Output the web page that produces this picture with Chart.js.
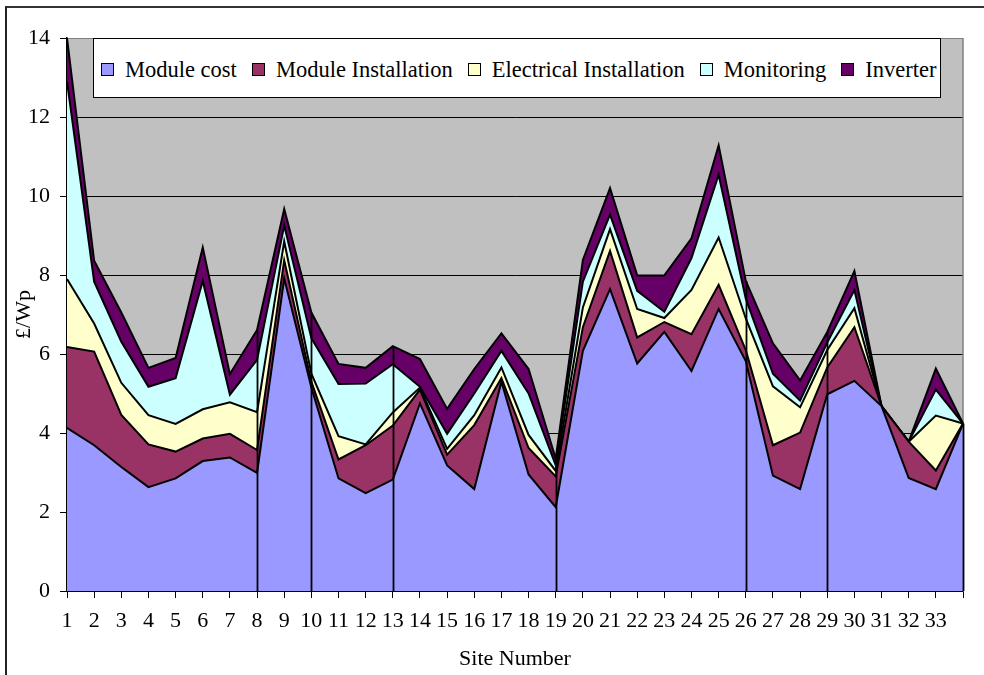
<!DOCTYPE html>
<html>
<head>
<meta charset="utf-8">
<script src="https://cdn.jsdelivr.net/npm/chart.js@4.4.1/dist/chart.umd.min.js"></script>
<style>
  html, body { margin: 0; padding: 0; background: #fff; }
  #wrap { position: relative; width: 984px; height: 675px; overflow: hidden; }
  #frame { position: absolute; left: 5px; top: 6px; width: 2000px; height: 2000px;
           border-left: 2px solid #222; border-top: 2px solid #333; }
  #c { position: absolute; left: 0; top: 0; }
  #legend { position: absolute; left: 93px; top: 38px; width: 848px; height: 60px;
            box-sizing: border-box; background: #fff; border: 1px solid #000;
            display: flex; align-items: center; padding-left: 7px; padding-top: 3px;
            font-family: "Liberation Serif", "Times New Roman", serif; font-size: 22.5px; color: #000;
            white-space: nowrap; }
  #legend .item { display: flex; align-items: center; margin-right: 15px; }
  #legend .sw { width: 13px; height: 13px; box-sizing: border-box; border: 1.5px solid #000; margin-right: 11px; }
</style>
</head>
<body>
<div id="wrap">
  <div id="frame"></div>
  <canvas id="c" width="984" height="675"></canvas>
  <div id="legend"></div>
</div>
<script>
// ---- data (£/Wp) ----
const sites = ['1','2','3','4','5','6','7','8','9','10','11','12','13','14','15','16','17',
               '18','19','20','21','22','23','24','25','26','27','28','29','30','31','32','33',''];
const moduleCost = [4.13,3.69,3.14,2.63,2.85,3.29,3.38,2.99,7.91,5.15,2.85,2.48,2.82,4.75,3.18,2.58,5.30,
                    2.95,2.12,6.08,7.64,5.76,6.56,5.57,7.14,5.82,2.92,2.58,4.98,5.32,4.68,2.86,2.58,4.24];
const moduleInstallation = [2.05,2.37,1.32,1.08,0.68,0.57,0.60,0.58,0.46,0.15,0.48,1.21,1.37,0.35,0.27,1.62,0.09,
                    0.67,0.78,0.60,0.97,0.66,0.25,0.93,0.61,0.28,0.77,1.43,0.68,1.36,0,0.92,0.47,0];
const electricalInstallation = [1.72,0.71,0.81,0.74,0.70,0.74,0.80,0.96,0.48,0.20,0.59,0.02,0.33,0.05,0.15,0.25,0.27,
                    0.33,0.14,0.50,0.55,0.72,0.10,1.12,1.20,0.80,1.49,0.64,0.44,0.48,0,0,1.39,0];
const monitoring = [5.00,1.06,1.04,0.72,1.16,3.25,0.19,1.32,0.40,0.90,1.32,1.54,1.22,0.02,0.38,0.55,0.42,
                    1.05,0.14,0.65,0.37,0.46,0.16,0.81,1.59,0.50,0.32,0.17,0.19,0.46,0,0,0.66,0];
const inverter = [1.10,0.53,0.74,0.48,0.51,0.85,0.52,0.76,0.42,0.65,0.51,0.40,0.46,0.70,0.63,0.62,0.44,
                    0.62,0.17,0.55,0.67,0.39,0.92,0.50,0.74,0.45,0.77,0.51,0.27,0.48,0,0,0.53,0];
const seriesNames = ['Module cost','Module Installation','Electrical Installation','Monitoring','Inverter'];
const seriesColors = ['#9999FF','#993366','#FFFFCC','#CCFFFF','#660066'];
const yTicks = [0,2,4,6,8,10,12,14];
const dividerSites = ['8','10','13','19','26','29'];
const xTitle = 'Site Number';
const yTitle = '£/Wp';

const allSeries = [moduleCost, moduleInstallation, electricalInstallation, monitoring, inverter];
const FONT = "'Liberation Serif', 'Times New Roman', serif";

const datasets = allSeries.map((vals, i) => ({
  label: seriesNames[i],
  data: vals,
  backgroundColor: seriesColors[i],
  borderColor: '#000',
  borderWidth: 2,
  fill: i === 0 ? 'origin' : '-1',
  pointRadius: 0,
  pointHoverRadius: 0,
  tension: 0
}));

const plotDecor = {
  id: 'plotDecor',
  beforeDraw(chart) {
    const {ctx, chartArea: a} = chart;
    ctx.save();
    ctx.fillStyle = '#C0C0C0';
    ctx.fillRect(a.left, a.top, a.right - a.left, a.bottom - a.top);
    ctx.restore();
  },
  beforeDatasetsDraw(chart) {
    const {ctx, chartArea: a} = chart;
    ctx.save();
    ctx.strokeStyle = '#808080';
    ctx.lineWidth = 1.5;
    ctx.beginPath();
    ctx.moveTo(a.right, a.top);
    ctx.lineTo(a.right, a.bottom);
    ctx.stroke();
    ctx.restore();
  },
  afterDatasetsDraw(chart) {
    const {ctx} = chart;
    const xs = chart.scales.x, ys = chart.scales.y;
    const idxs = dividerSites.map(s => sites.indexOf(s));
    idxs.push(sites.length - 1);
    ctx.save();
    ctx.strokeStyle = '#000';
    ctx.lineWidth = 1.8;
    idxs.forEach(i => {
      const total = allSeries.reduce((s, arr) => s + arr[i], 0);
      const px = Math.round(xs.getPixelForValue(i)) + 0.5;
      ctx.beginPath();
      ctx.moveTo(px, ys.getPixelForValue(0));
      ctx.lineTo(px, ys.getPixelForValue(total));
      ctx.stroke();
    });
    ctx.restore();
  }
};

const chart = new Chart(document.getElementById('c'), {
  type: 'line',
  data: { labels: sites, datasets },
  options: {
    responsive: false,
    animation: false,
    devicePixelRatio: 1,
    layout: { padding: { left: 0, right: 21, top: 38, bottom: 0 } },
    plugins: { legend: { display: false }, tooltip: { enabled: false } },
    elements: { line: { borderJoinStyle: 'miter' } },
    scales: {
      x: {
        type: 'category',
        offset: false,
        grid: { drawOnChartArea: false, drawTicks: true, tickLength: 7, tickColor: '#000', lineWidth: 1 },
        border: { display: true, color: '#000', width: 1.5 },
        ticks: { autoSkip: false, maxRotation: 0, minRotation: 0, color: '#000', padding: 10,
                 font: { family: FONT, size: 22 } },
        title: { display: true, text: xTitle, color: '#000', font: { family: FONT, size: 22 },
                 padding: { top: 0, bottom: 3 } },
        afterFit(s) { s.height = 84; }
      },
      y: {
        stacked: true,
        min: 0, max: 14,
        afterBuildTicks(s) { s.ticks = yTicks.map(v => ({ value: v })); },
        grid: {
          color: c => (c.tick && c.tick.value === 14) ? '#808080' : '#000',
          lineWidth: 1, drawTicks: true, tickLength: 7, tickColor: '#000'
        },
        border: { display: true, color: '#000', width: 1.5 },
        ticks: { color: '#000', padding: 10, font: { family: FONT, size: 22 } },
        title: { display: true, text: yTitle, color: '#000', font: { family: FONT, size: 22 },
                 padding: { top: 11, bottom: 0 } },
        afterFit(s) { s.width = 67; }
      }
    }
  },
  plugins: [plotDecor]
});

// HTML legend built from the chart's datasets
const leg = document.getElementById('legend');
chart.data.datasets.forEach(ds => {
  const it = document.createElement('div');
  it.className = 'item';
  const sw = document.createElement('span');
  sw.className = 'sw';
  sw.style.background = ds.backgroundColor;
  const tx = document.createElement('span');
  tx.textContent = ds.label;
  it.appendChild(sw); it.appendChild(tx);
  leg.appendChild(it);
});
</script>
</body>
</html>
